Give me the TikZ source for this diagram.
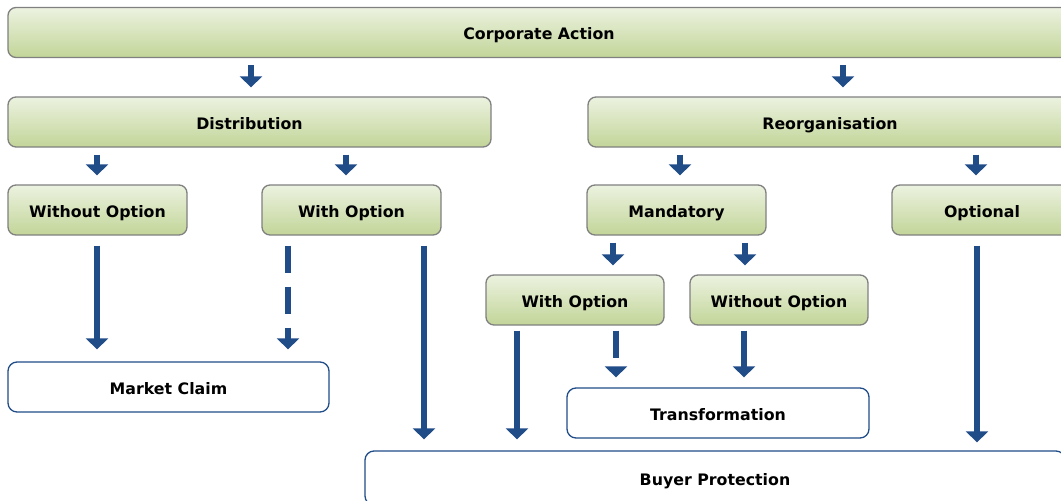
\documentclass[tikz,border=0pt]{standalone}
\usepackage{fontspec}
\setmainfont{DejaVu Sans}
\usepackage{tikz}
\usetikzlibrary{arrows.meta}
\definecolor{arrblue}{RGB}{32,76,136}
\definecolor{gtop}{RGB}{236,242,224}
\definecolor{gbot}{RGB}{194,213,152}
\definecolor{gline}{RGB}{128,128,128}

\begin{document}
\begin{tikzpicture}[x=1pt, y=-1pt,
    font=\fontsize{15.8}{18}\selectfont\bfseries,
    gbox/.style={draw=gline, line width=1.3pt, rounded corners=8pt, top color=gtop, bottom color=gbot, minimum height=50pt, inner sep=0pt, text height=14pt, text depth=0pt}, % green boxes
    wbox/.style={draw=arrblue, line width=1.3pt, rounded corners=9pt, fill=white, minimum height=50pt, inner sep=0pt, text height=14pt, text depth=0pt}, % white boxes
    arr/.style={draw=arrblue, line width=6pt, -{Triangle[length=11pt, width=22pt]}, shorten <=7pt, shorten >=9pt},
    darr/.style={arr, dash pattern=on 27pt off 14pt}
    ]
\useasboundingbox (0,0) rectangle (1061,501);
\clip (0,0) rectangle (1061,501);

\node[gbox, minimum width=1062pt] (ca) at (539,32.5) {Corporate Action};
\node[gbox, minimum width=483pt] (dist) at (249.5,122) {Distribution};
\node[gbox, minimum width=484pt] (reorg) at (830,122) {Reorganisation};

\node[gbox, minimum width=179pt] (wo1) at (97.5,210) {Without Option};
\node[gbox, minimum width=179pt] (wi1) at (351.5,210) {With Option};
\node[gbox, minimum width=179pt] (mand) at (676.5,210) {Mandatory};
\node[gbox, minimum width=180pt] (opt) at (982,210) {Optional};

\node[gbox, minimum width=178pt] (wi2) at (575,300) {With Option};
\node[gbox, minimum width=178pt] (wo2) at (779,300) {Without Option};

\node[wbox, minimum width=321pt] (mc) at (168.5,387) {Market Claim};
\node[wbox, minimum width=302pt] (tr) at (718,413) {Transformation};
\node[wbox, minimum width=700pt, minimum height=54pt] (bp) at (715,478) {Buyer Protection};

\draw[arr] (ca.south -| 251,0) -- (dist.north -| 251,0);
\draw[arr] (ca.south -| 843,0) -- (reorg.north -| 843,0);

\draw[arr] (dist.south -| 97,0) -- (wo1.north -| 97,0);
\draw[arr] (dist.south -| 346,0) -- (wi1.north -| 346,0);
\draw[arr] (reorg.south -| 680,0) -- (mand.north -| 680,0);
\draw[arr] (reorg.south -| 976,0) -- (opt.north -| 976,0);

\draw[arr] (mand.south -| 613,0) -- (wi2.north -| 613,0);
\draw[arr] (mand.south -| 745,0) -- (wo2.north -| 745,0);

\draw[arr, shorten <=10pt, shorten >=12pt] (wo1.south -| 97,0) -- (mc.north -| 97,0);
\draw[darr, shorten <=10pt, shorten >=12pt] (wi1.south -| 288,0) -- (mc.north -| 288,0);
\draw[arr, shorten <=10pt, shorten >=11pt] (wi1.south -| 424,0) -- (bp.north -| 424,0);
\draw[arr, shorten <=5pt, shorten >=11pt] (wi2.south -| 517,0) -- (bp.north -| 517,0);
\draw[darr, shorten <=5pt, shorten >=10pt] (wi2.south -| 616,0) -- (tr.north -| 616,0);
\draw[arr, shorten <=5pt, shorten >=10pt] (wo2.south -| 744,0) -- (tr.north -| 744,0);
\draw[arr, shorten <=10pt, shorten >=8pt] (opt.south -| 977,0) -- (bp.north -| 977,0);
\end{tikzpicture}
\end{document}
